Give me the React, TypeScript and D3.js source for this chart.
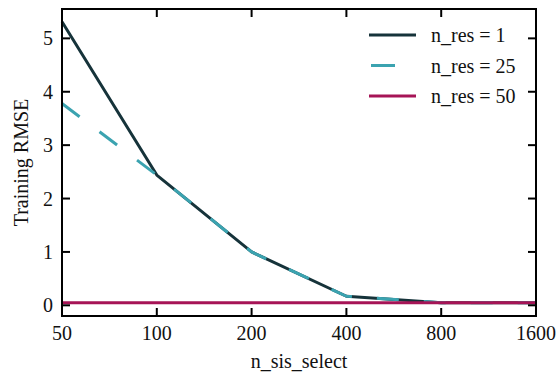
import React from "react";
import * as d3 from "d3";

const xTicks = [50, 100, 200, 400, 800, 1600];
const yTicks = [0, 1, 2, 3, 4, 5];
const nSis = [50, 100, 200, 400, 800, 1600];
const res1 = [5.31, 2.44, 1.0, 0.17, 0.05, 0.05];
const res25 = [3.78, 2.44, 1.0, 0.17, 0.05, 0.05];
const res50 = [0.05, 0.05, 0.05, 0.05, 0.05, 0.05];
const seriesNames = ["n_res = 1", "n_res = 25", "n_res = 50"];
const seriesColors = ["#16333a", "#3ba3b0", "#a61456"];

export default function App() {
  const W = 558, H = 372;
  const L = 62, R = 536, T = 9, B = 316;
  const x = d3.scaleLog().base(2).domain([50, 1600]).range([L, R]);
  const y = d3.scaleLinear().domain([-0.2, 5.55]).range([B, T]);
  const line = d3.line<number>().x((_, i) => x(nSis[i])).y((d) => y(d));
  const series = [res1, res25, res50];
  const fs = { fontFamily: "Liberation Serif", fontSize: "20px" };
  const tl = 8;
  return (
    <svg width={W} height={H} style={{ position: "absolute", left: 0, top: 0 }}>
      <rect width={W} height={H} fill="white" />
      {series.map((s, k) => (
        <path key={k} d={line(s) || ""} fill="none" stroke={seriesColors[k]} strokeWidth={3}
          strokeDasharray={k === 1 ? "22,25" : undefined} strokeLinejoin="round" />
      ))}
      <rect x={L} y={T} width={R - L} height={B - T} fill="none" stroke="black" strokeWidth={2} />
      {xTicks.map((t) => (
        <g key={t}>
          <line x1={x(t)} x2={x(t)} y1={B} y2={B - tl} stroke="black" strokeWidth={2} />
          <line x1={x(t)} x2={x(t)} y1={T} y2={T + tl} stroke="black" strokeWidth={2} />
          <text x={x(t)} y={340} style={fs} textAnchor="middle" fill="#111">{t}</text>
        </g>
      ))}
      {yTicks.map((t) => (
        <g key={t}>
          <line x1={L} x2={L + tl} y1={y(t)} y2={y(t)} stroke="black" strokeWidth={2} />
          <line x1={R} x2={R - tl} y1={y(t)} y2={y(t)} stroke="black" strokeWidth={2} />
          <text x={53} y={y(t) + 7} style={fs} textAnchor="end" fill="#111">{t}</text>
        </g>
      ))}
      <text x={(L + R) / 2} y={368} style={fs} textAnchor="middle" fill="#111">n_sis_select</text>
      <text transform={`translate(28,${(T + B) / 2}) rotate(-90)`} style={fs} textAnchor="middle" fill="#111">Training RMSE</text>
      {seriesNames.map((n, k) => {
        const yy = 35 + k * 30.5;
        return (
          <g key={n}>
            <line x1={369} x2={416} y1={yy} y2={yy} stroke={seriesColors[k]} strokeWidth={3}
              strokeDasharray={k === 1 ? "0,2,24,30" : undefined} />
            <text x={431} y={yy + 7} style={fs} fill="#111">{n}</text>
          </g>
        );
      })}
    </svg>
  );
}
